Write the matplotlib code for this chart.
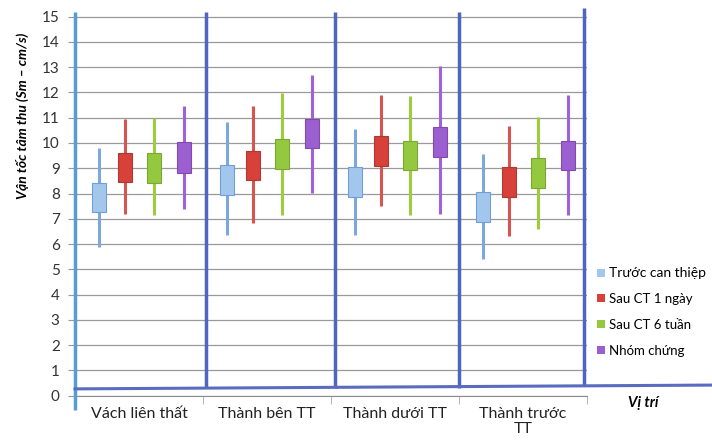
import matplotlib
matplotlib.use("Agg")
import matplotlib.pyplot as plt
from matplotlib.patches import Patch

plt.rcParams["font.family"] = ["Lato", "DejaVu Sans"]

categories = ["Vách liên thất", "Thành bên TT", "Thành dưới TT", "Thành trước\nTT"]
series = ["Trước can thiệp", "Sau CT 1 ngày", "Sau CT 6 tuần", "Nhóm chứng"]

# whisker low, box bottom, box top, whisker high for each series
low = [
    [5.90, 6.36, 6.36, 5.41],
    [7.18, 6.82, 7.52, 6.32],
    [7.16, 7.15, 7.15, 6.60],
    [7.38, 8.01, 7.19, 7.15],
]
q1 = [
    [7.26, 7.94, 7.88, 6.89],
    [8.44, 8.54, 9.10, 7.88],
    [8.43, 8.97, 8.92, 8.23],
    [8.83, 9.79, 9.46, 8.93],
]
q3 = [
    [8.42, 9.12, 9.05, 8.07],
    [9.62, 9.68, 10.28, 9.06],
    [9.62, 10.16, 10.09, 9.42],
    [10.03, 10.94, 10.65, 10.09],
]
high = [
    [9.79, 10.82, 10.54, 9.56],
    [10.94, 11.46, 11.90, 10.67],
    [11.00, 11.97, 11.86, 11.04],
    [11.48, 12.69, 13.05, 11.90],
]

face = ["#a3c7ec", "#d8403a", "#93c83f", "#9b5fd0"]
edge = ["#6f9fd8", "#a93a36", "#7ba834", "#7f4bb0"]
whisk = ["#7ea8dd", "#d9534f", "#9dcc3d", "#a062d8"]
offsets = [0.19, 0.39, 0.62, 0.85]

fig = plt.figure(figsize=(7.12, 4.48), dpi=100)
ax = fig.add_axes([75 / 712, 1 - 395.7 / 448, 512 / 712, 389.2 / 448])
ax.set_xlim(0, 4)
ax.set_ylim(0, 15.4)

for s in range(4):
    for c in range(4):
        x = c + offsets[s]
        ax.vlines(x, low[s][c], high[s][c], color=whisk[s], lw=2.2, zorder=3)
        ax.bar(x, q3[s][c] - q1[s][c], bottom=q1[s][c], width=0.11,
               color=face[s], edgecolor=edge[s], linewidth=0.8, zorder=4)

# odd blue frame lines from the original chart
ax.vlines(0, -0.57, 15.2, color="#5b9bd5", lw=2.5, zorder=5, clip_on=False)
ax.vlines([1.02, 2.03, 3.0], 0.3, 15.2, color="#5066be", lw=2.5, zorder=5)
ax.vlines(3.98, 0.4, 15.35, color="#5066be", lw=2.5, zorder=5, clip_on=False)
ax.plot([0, 4.97], [0.27, 0.42], color="#5a6cc0", lw=2.2, zorder=5, clip_on=False)

for sp in ["top", "right", "left"]:
    ax.spines[sp].set_visible(False)
ax.spines["bottom"].set_color("#8c8c8c")

ax.set_yticks(range(0, 16))
ax.yaxis.grid(True, color="#999999", lw=0.9)
ax.set_axisbelow(True)
ax.tick_params(axis="y", length=5, color="#999999", pad=6, labelsize=11, labelcolor="#333333")

ax.set_xticks([0.5, 1.5, 2.5, 3.5])
ax.set_xticklabels(categories, fontsize=11.5, color="#222222", linespacing=1.1)
ax.set_xticks([0, 1, 2, 3, 4], minor=True)
ax.tick_params(axis="x", which="major", length=0, pad=8)
ax.tick_params(axis="x", which="minor", length=6, color="#aaaaaa")

fig.text(22 / 712, 1 - 116 / 448, "Vận tốc tâm thu (Sm – cm/s)", rotation=90,
         ha="center", va="center", fontsize=10, fontweight="bold", style="italic")
fig.text(643 / 712, 1 - 403 / 448, "Vị trí", ha="center", va="center",
         fontsize=10.5, fontweight="bold", style="italic")

handles = [Patch(facecolor=face[i]) for i in range(4)]
leg = fig.legend(handles, series, loc="upper left", bbox_to_anchor=(592 / 712, 1 - 262 / 448),
                 frameon=False, fontsize=9.5, handlelength=0.55, handleheight=0.55,
                 handletextpad=0.35, labelspacing=1.05, borderaxespad=0)
leg.get_texts()[0].set_fontsize(10)

fig.savefig("out.png", dpi=100)
